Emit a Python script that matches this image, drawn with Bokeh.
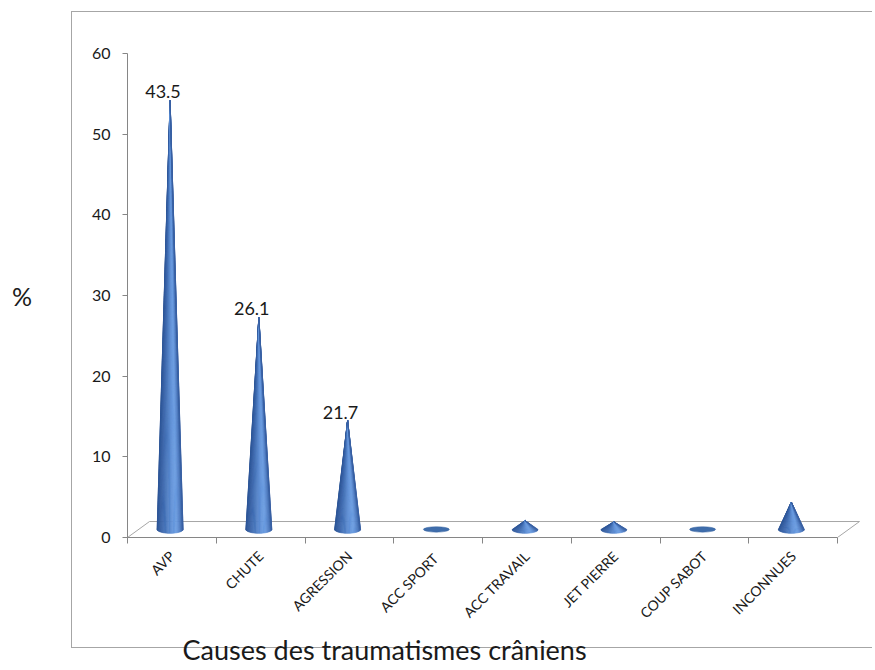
import numpy as np
from bokeh.plotting import figure
from bokeh.models import FixedTicker, Range1d, ColumnDataSource, Title
from bokeh.core.properties import value
from bokeh.embed import file_html
from bokeh.resources import INLINE

# ---- data ----
categories = ["AVP", "CHUTE", "AGRESSION", "ACC  SPORT", "ACC TRAVAIL",
              "JET PIERRE", "COUP SABOT", "INCONNUES"]
values = [53.2, 26.3, 13.5, 0.0, 1.1, 0.95, 0.0, 3.4]
data_labels = ["43.5", "26.1", "21.7", "", "", "", "", ""]
y_ticks = [0, 10, 20, 30, 40, 50, 60]
y_title = "%"
x_title = "Causes des traumatismes crâniens"

FONT = "Lato"
AXIS_GREY = "#868686"
FLOOR_GREY = "#a6a6a6"
TEXT = "#1a1a1a"

W, H = 872, 668
PX_X = 88.75          # pixels per category
LEFT, TOP, BOTTOM_PX = 127, 53, 537
RIGHT_PX = 864
X1 = (RIGHT_PX - LEFT) / PX_X

p = figure(width=W, height=H, x_range=Range1d(0, X1), y_range=Range1d(0, 60),
           output_backend="svg", toolbar_location=None,
           min_border_left=LEFT, min_border_right=W - RIGHT_PX, min_border_top=TOP,
           min_border_bottom=H - BOTTOM_PX)
p.grid.visible = False
p.outline_line_color = None
p.background_fill_color = None
p.border_fill_color = None

# outer chart-area border (page decoration behind the transparent canvas)
g = "linear-gradient(%s,%s)" % (FLOOR_GREY, FLOOR_GREY)
p.styles = {
    "background-color": "white",
    "background-image": ", ".join([g, g, g]),
    "background-position": "71px 11px, 71px 11px, 71px 647px",
    "background-size": "1px 637px, 810px 1px, 810px 1px",
    "background-repeat": "no-repeat",
}

# x axis: labels at category centres, ticks at boundaries
n = len(categories)
p.xaxis.bounds = (0, n)
p.xaxis.ticker = FixedTicker(ticks=[i + 0.5 for i in range(n)],
                             minor_ticks=list(range(n + 1)))
p.xaxis.major_label_overrides = {i + 0.5: c for i, c in enumerate(categories)}
p.xaxis.major_tick_line_color = None
p.xaxis.major_tick_out = 0
p.xaxis.major_tick_in = 0
p.xaxis.minor_tick_out = 6
p.xaxis.minor_tick_in = 0
p.xaxis.minor_tick_line_color = AXIS_GREY
p.xaxis.axis_line_color = AXIS_GREY
p.xaxis.major_label_orientation = np.pi / 4
p.xaxis.major_label_text_font = FONT
p.xaxis.major_label_text_font_size = "14px"
p.xaxis.major_label_text_color = TEXT
p.xaxis.major_label_standoff = 10

# y axis
p.yaxis.ticker = FixedTicker(ticks=y_ticks)
p.yaxis.minor_tick_line_color = None
p.yaxis.major_tick_out = 5
p.yaxis.major_tick_in = 0
p.yaxis.major_tick_line_color = AXIS_GREY
p.yaxis.axis_line_color = AXIS_GREY
p.yaxis.major_label_text_font = FONT
p.yaxis.major_label_text_font_size = "16px"
p.yaxis.major_label_text_color = TEXT
p.yaxis.major_label_standoff = 12
p.yaxis.axis_label = y_title
p.yaxis.axis_label_orientation = "horizontal"
p.yaxis.axis_label_text_font = FONT
p.yaxis.axis_label_text_font_style = "normal"
p.yaxis.axis_label_text_font_size = "25px"
p.yaxis.axis_label_text_color = TEXT
p.yaxis.axis_label_standoff = 57

# x title below the axis
p.add_layout(Title(text=x_title, align="left", offset=55, standoff=0,
                   text_font=FONT, text_font_size="27px", text_font_style="normal",
                   text_color=TEXT), "below")

# 3D floor outline (front edge is the x axis line)
depth_x, depth_y = 0.248, 1.98
p.line(x=[0, depth_x, n + depth_x, n], y=[0, depth_y, depth_y, 0],
       line_color=FLOOR_GREY, line_width=1)

# cones with shaded slices
base_y = 1.0
rx, ry = 0.146, 0.48
cone_x = [i + 0.48 for i in range(n)]

stops_t = [0.0, 0.25, 0.6, 0.75, 0.9, 1.0]
stops_c = [(45, 85, 150), (62, 106, 176), (98, 148, 218), (108, 158, 226),
           (80, 125, 195), (56, 96, 162)]


def shade(t):
    r = [np.interp(t, stops_t, [c[k] for c in stops_c]) for k in range(3)]
    return "#%02x%02x%02x" % tuple(int(round(v)) for v in r)


xs, ys, cols = [], [], []
ell_x, ell_y = [], []
NS = 30
for cx, v in zip(cone_x, values):
    if v <= 0:
        ell_x.append(cx)
        ell_y.append(base_y)
        continue
    tip = base_y + v
    th = np.linspace(np.pi, 2 * np.pi, NS + 1)
    bx = cx + rx * np.cos(th)
    by = base_y + ry * np.sin(th)
    for k in range(NS):
        tm = 0.5 * (np.cos(th[k]) + np.cos(th[k + 1])) * 0.5 + 0.5
        xs.append([cx, bx[k], bx[k + 1]])
        ys.append([tip, by[k], by[k + 1]])
        cols.append(shade(tm))

src = ColumnDataSource(dict(xs=xs, ys=ys, c=cols))
p.patches("xs", "ys", source=src, fill_color="c", line_color="c", line_width=0.6)

p.ellipse(x=ell_x, y=ell_y, width=2 * rx, height=0.67, fill_color="#3f6dab",
          line_color="#3a66a2", line_width=0.5)

# data labels
lab_src = ColumnDataSource(dict(x=[cx - 0.08 for cx in cone_x],
                                y=[base_y + v for v in values], t=data_labels))
p.text(x="x", y="y", text="t", source=lab_src, text_align="center",
       text_baseline="bottom", y_offset=-2, text_font=value(FONT),
       text_font_size="18px", text_color=TEXT)

open("out.html", "w").write(file_html(p, INLINE))
